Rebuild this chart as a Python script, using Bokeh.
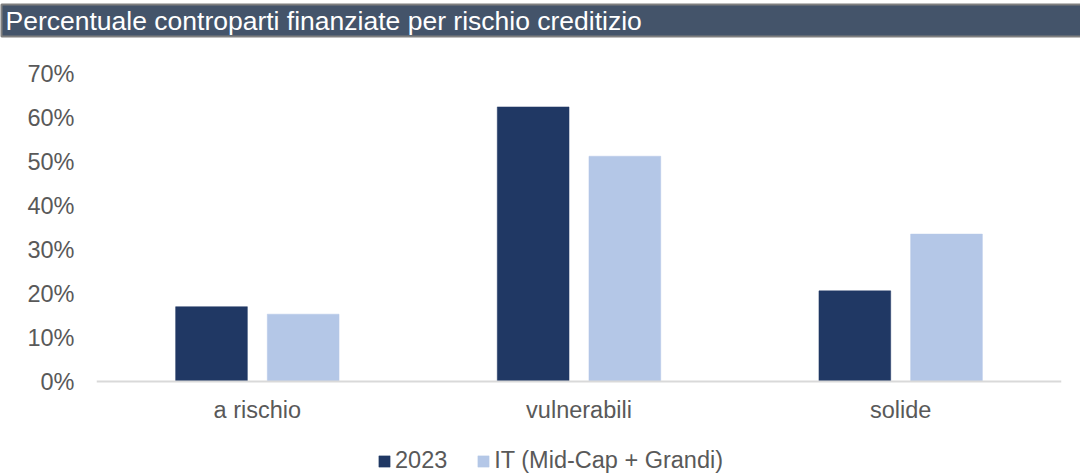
from bokeh.plotting import figure
from bokeh.models import (ColumnDataSource, FactorRange, FixedTicker, NumeralTickFormatter,
                          Legend, LegendItem, Title, Range1d)
from bokeh.transform import dodge
from bokeh.embed import file_html
from bokeh.resources import INLINE

title_text = "Percentuale controparti finanziate per rischio creditizio"
categories = ["a rischio", "vulnerabili", "solide"]
series_names = ["2023", "IT (Mid-Cap + Grandi)"]
values_2023 = [0.170, 0.624, 0.206]
values_it = [0.153, 0.512, 0.335]
y_ticks = [0.0, 0.1, 0.2, 0.3, 0.4, 0.5, 0.6, 0.7]

DARK = "#203864"
LIGHT = "#B4C7E7"
TXT = "#595959"
FONT = "Liberation Sans"
FS = "23.5px"

W, H = 1080, 473
LEFT, RIGHT = 96, 19
TOP = 73            # frame top (px) where 70% sits
ZERO_PX = 381       # pixel row of 0%
Y_MAX = 0.7
y_min = -Y_MAX * (H - ZERO_PX) / (ZERO_PX - TOP)   # extend frame below the 0 line

source = ColumnDataSource(data=dict(cat=categories, v2023=values_2023, vit=values_it))

p = figure(width=W, height=H, output_backend="svg", toolbar_location=None,
           x_range=FactorRange(*categories, range_padding=0), y_range=Range1d(y_min, Y_MAX),
           min_border_left=LEFT, min_border_right=RIGHT, min_border_top=TOP, min_border_bottom=0)
p.outline_line_color = None
p.grid.visible = False

# invisible spacer between the title bar and the plot area
spacer = Title(text=" ", text_font_size="1px", standoff=32, text_color="white")
p.add_layout(spacer, "above")

title = Title(text=title_text, align="left", vertical_align="top", offset=-95, standoff=0,
              text_font=FONT, text_font_size="26.5px", text_font_style="normal",
              text_color="white",
              background_fill_color="#44546A", border_line_color="#7F7F7F",
              border_line_width=2, padding=dict(left=4, right=700, top=1, bottom=1))
p.add_layout(title, "above")

r1 = p.vbar(x=dodge("cat", -0.1425, range=p.x_range), top="v2023", width=0.223,
            source=source, fill_color=DARK, line_color=DARK, line_width=0.5)
r2 = p.vbar(x=dodge("cat", 0.1425, range=p.x_range), top="vit", width=0.223,
            source=source, fill_color=LIGHT, line_color=LIGHT, line_width=0.5)

p.yaxis.ticker = FixedTicker(ticks=y_ticks)
p.yaxis.formatter = NumeralTickFormatter(format="0%")
p.yaxis.axis_line_color = None
p.yaxis.major_tick_line_color = None
p.yaxis.minor_tick_line_color = None
p.yaxis.major_label_text_font = FONT
p.yaxis.major_label_text_font_size = FS
p.yaxis.major_label_text_color = TXT
p.yaxis.major_label_standoff = 16

p.xaxis.fixed_location = 0
p.xaxis.axis_line_color = "#D9D9D9"
p.xaxis.axis_line_width = 2
p.xaxis.major_tick_line_color = None
p.xaxis.minor_tick_line_color = None
p.xaxis.major_label_text_font = FONT
p.xaxis.major_label_text_font_size = FS
p.xaxis.major_label_text_color = TXT
p.xaxis.major_label_standoff = 9

legend = Legend(items=[LegendItem(label=series_names[0], renderers=[r1]),
                       LegendItem(label=series_names[1], renderers=[r2])],
                orientation="horizontal", location=(281, -1),
                glyph_width=14, glyph_height=14, label_standoff=4, spacing=29,
                padding=0, margin=0, border_line_color=None, background_fill_alpha=0,
                label_text_font=FONT, label_text_font_size=FS, label_text_color=TXT,
                label_height=20)
p.add_layout(legend, "center")

open("out.html", "w").write(file_html(p, INLINE))
